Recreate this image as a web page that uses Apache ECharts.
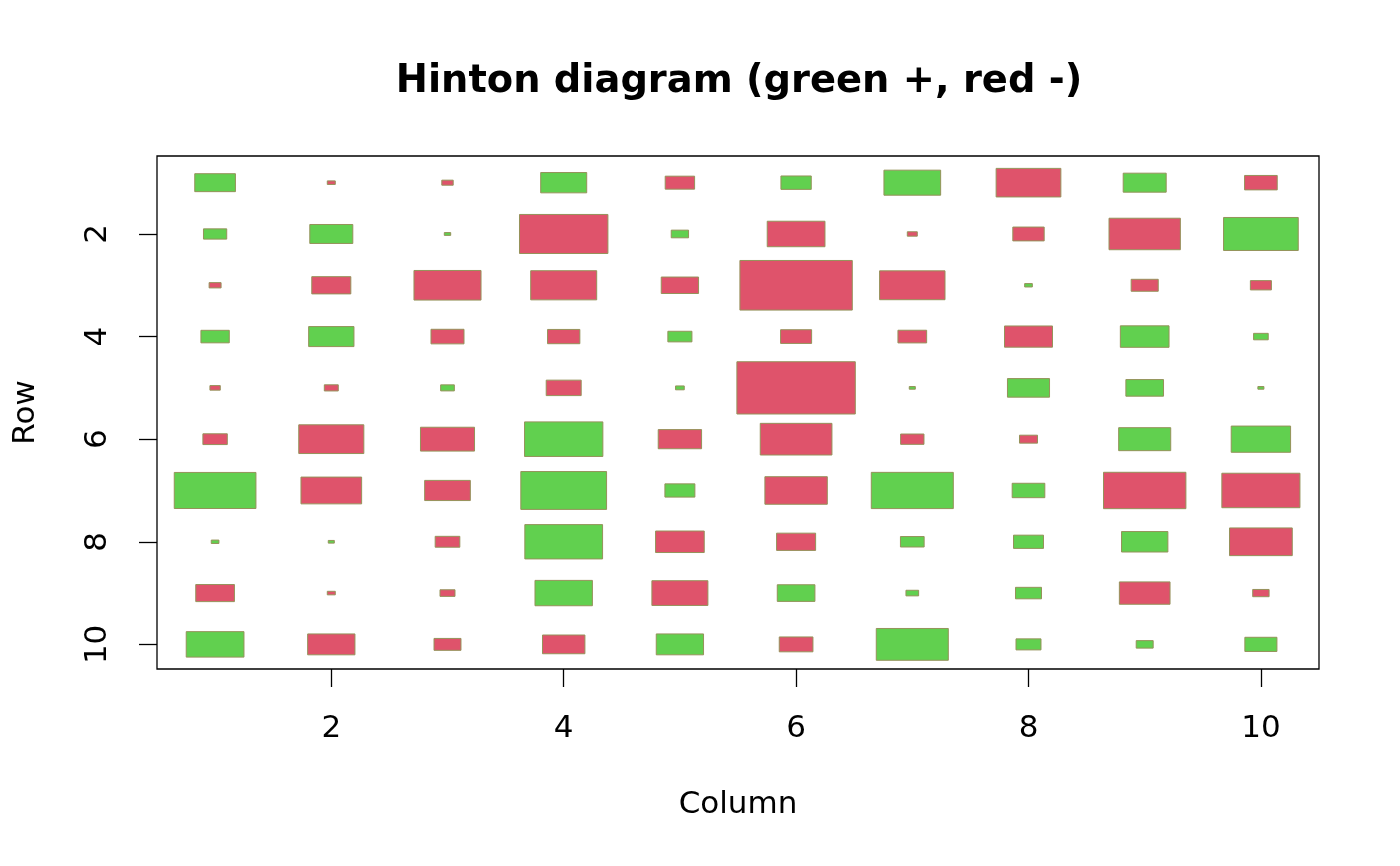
<!DOCTYPE html>
<html>
<head>
<meta charset="utf-8">
<script src="https://cdn.jsdelivr.net/npm/echarts@6/dist/echarts.min.js"></script>
<style>html,body{margin:0;padding:0;background:#fff;}#c{width:1400px;height:866px;}</style>
</head>
<body>
<div id="c"></div>
<script>
// Signed box side lengths (data units); rows 1..10, columns 1..10
const row1  = [0.35, -0.069, -0.098, 0.396, -0.253, 0.261, 0.488, -0.557, 0.37, -0.281];
const row2  = [0.20, 0.37, 0.055, -0.761, 0.149, -0.497, -0.086, -0.27, -0.614, 0.643];
const row3  = [-0.103, -0.336, -0.577, -0.568, -0.321, -0.967, -0.563, 0.066, -0.233, -0.181];
const row4  = [0.244, 0.39, -0.284, -0.278, 0.207, -0.267, -0.247, -0.413, 0.419, 0.126];
const row5  = [-0.089, -0.12, 0.118, -0.301, 0.075, -1.019, 0.052, 0.362, 0.324, 0.052];
const row6  = [-0.21, -0.56, -0.465, 0.674, -0.373, -0.617, -0.201, -0.155, 0.448, 0.511];
const row7  = [0.703, -0.522, -0.393, 0.738, 0.258, -0.537, 0.706, 0.281, -0.709, -0.672];
const row8  = [0.066, 0.052, -0.212, 0.669, -0.419, -0.336, 0.204, 0.258, 0.399, -0.54];
const row9  = [-0.333, -0.069, -0.129, 0.494, -0.482, 0.324, 0.109, 0.224, -0.436, -0.141];
const row10 = [0.497, -0.407, -0.232, -0.365, 0.407, -0.29, 0.62, 0.215, 0.146, 0.276];
const rows = [row1, row2, row3, row4, row5, row6, row7, row8, row9, row10];
const xTicks = [2, 4, 6, 8, 10];
const yTicks = [2, 4, 6, 8, 10];

const data = [];
rows.forEach((r, i) => r.forEach((v, j) => data.push([j + 1, i + 1, v])));

const FONT = 'DejaVu Sans';
const chart = echarts.init(document.getElementById('c'), null, {renderer: 'canvas'});
chart.setOption({
  backgroundColor: '#ffffff',
  animation: false,
  title: {
    text: 'Hinton diagram (green +, red -)',
    left: 734, top: 58, textAlign: 'center',
    textStyle: {fontFamily: FONT, fontWeight: 'bold', fontSize: 38.4, color: '#000'}
  },
  grid: {left: 157, right: 81, top: 156, bottom: 197, show: true, borderColor: '#000', borderWidth: 1.3, backgroundColor: 'transparent'},
  xAxis: {
    type: 'value', min: 0.5, max: 10.5,
    name: 'Column', nameLocation: 'middle', nameGap: 120,
    nameTextStyle: {fontFamily: FONT, fontSize: 31, color: '#000'},
    axisLine: {show: false},
    axisTick: {show: true, length: 18, customValues: xTicks, lineStyle: {color: '#000', width: 1.3}},
    axisLabel: {customValues: xTicks, margin: 44, fontFamily: FONT, fontSize: 31, color: '#000'},
    splitLine: {show: false}
  },
  yAxis: {
    type: 'value', min: 0.48, max: 10.48, inverse: true,
    name: 'Row', nameLocation: 'middle', nameGap: 116,
    nameTextStyle: {fontFamily: FONT, fontSize: 31, color: '#000'},
    axisLine: {show: false},
    axisTick: {show: true, length: 18, customValues: yTicks, lineStyle: {color: '#000', width: 1.3}},
    axisLabel: {customValues: yTicks, rotate: 90, margin: 44, fontFamily: FONT, fontSize: 31, color: '#000'},
    splitLine: {show: false}
  },
  series: [{
    type: 'custom',
    clip: true,
    data: data,
    renderItem: function (params, api) {
      const x = api.value(0), y = api.value(1), v = api.value(2);
      const s = Math.abs(v) / 2;
      const p0 = api.coord([x - s, y - s]);
      const p1 = api.coord([x + s, y + s]);
      return {
        type: 'rect',
        shape: {
          x: Math.min(p0[0], p1[0]), y: Math.min(p0[1], p1[1]),
          width: Math.abs(p1[0] - p0[0]), height: Math.abs(p1[1] - p0[1])
        },
        style: {fill: v > 0 ? '#61D04F' : '#DF536B', stroke: '#95925a', lineWidth: 1}
      };
    }
  }]
});
</script>
</body>
</html>
